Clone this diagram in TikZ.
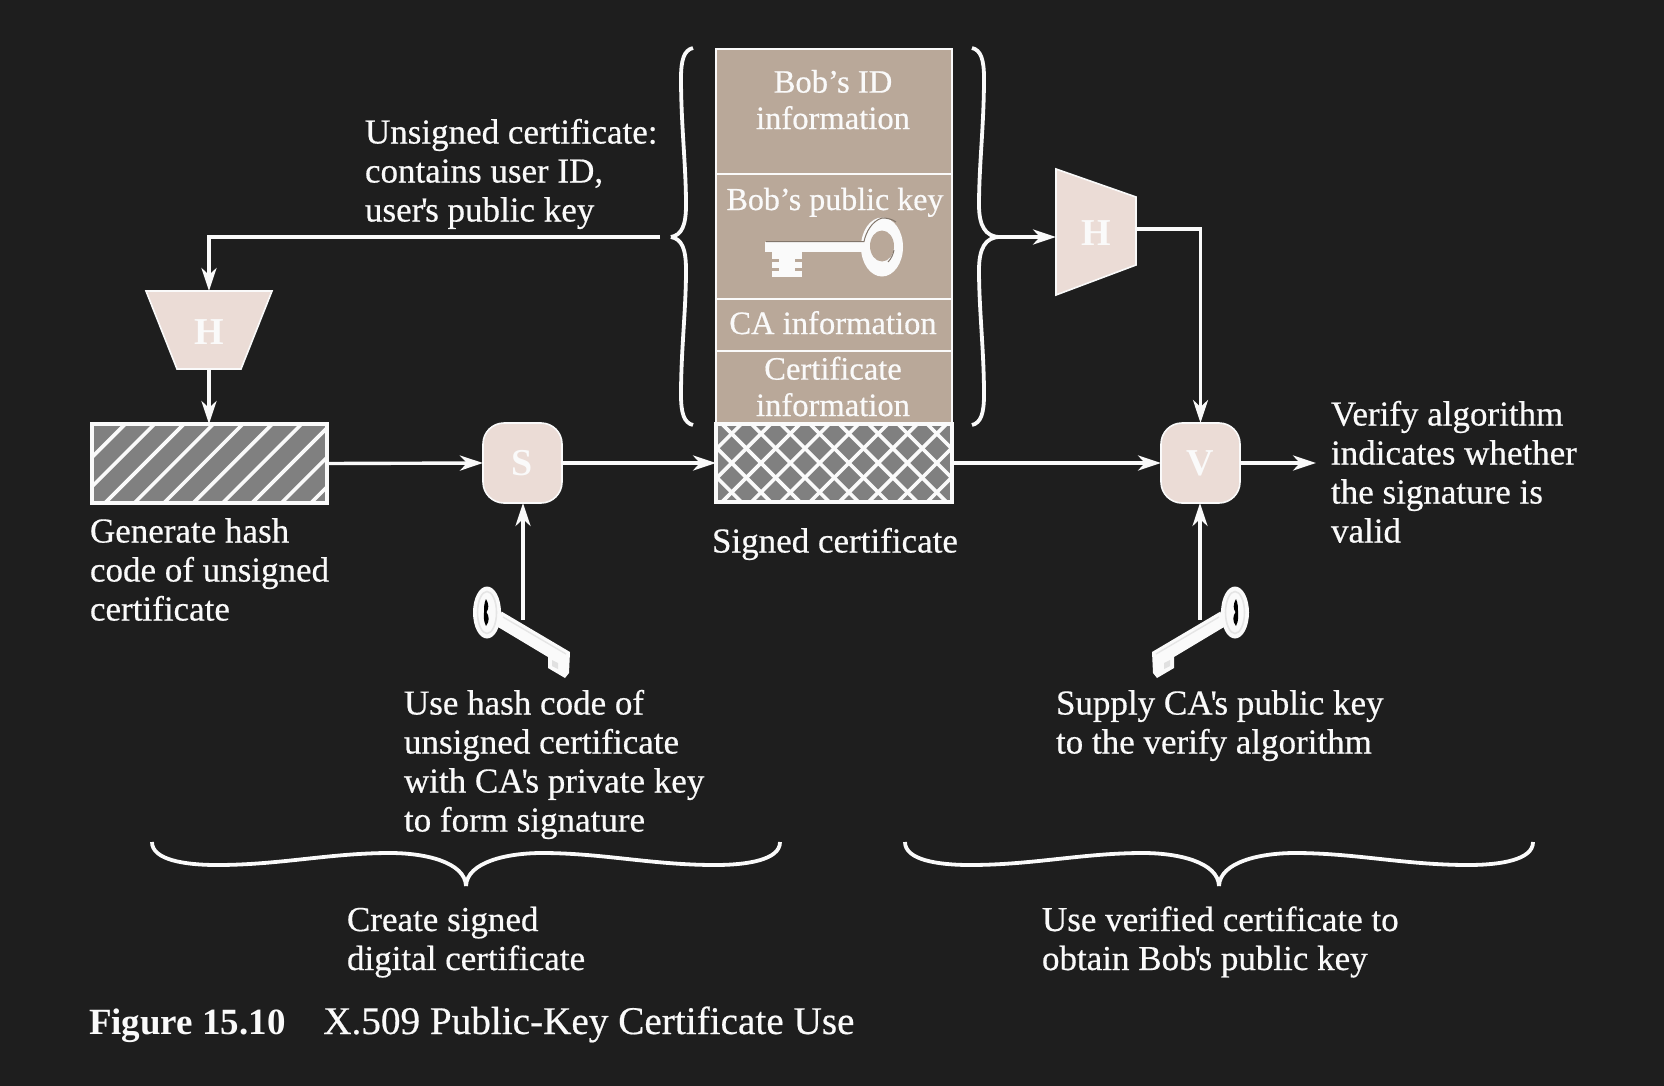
\documentclass[tikz,border=0pt]{standalone}
\usepackage{fontspec}
\setmainfont{Liberation Serif}[Ligatures=TeXOff]
\newfontfamily\labfont{Liberation Serif}[Ligatures=TeXOff,FakeBold=0.5]
\usetikzlibrary{arrows.meta}
\definecolor{bgc}{RGB}{30,30,30}
\definecolor{tan}{RGB}{185,168,153}
\definecolor{pinkc}{RGB}{235,220,214}
\definecolor{hatchc}{RGB}{128,128,128}
\definecolor{ink}{RGB}{250,250,250}
\newcommand{\apos}{\kern-1pt'\kern-1.2pt}
\tikzset{
  tipa/.tip={Stealth[length=11.5pt,width=7.5pt,inset=3.5pt]},
  wire/.style={draw=ink,line width=1.7pt,-tipa},
  curly/.style={draw=ink,line width=1.9pt,line cap=butt},
  txt/.style={text=ink,font=\labfont\fontsize{17.5pt}{19.5pt}\selectfont,inner sep=0pt,outer sep=0pt,align=left,anchor=base west},
  celltxt/.style={text=ink,font=\labfont\fontsize{16.3pt}{18.2pt}\selectfont,inner sep=0pt,outer sep=0pt,align=center,anchor=base},
  letter/.style={text=ink,font=\bfseries\fontsize{19pt}{20pt}\selectfont,inner sep=0pt,outer sep=0pt},
  cell/.style={fill=tan,draw=ink,line width=1pt,inner sep=0pt,outer sep=0pt,minimum width=118pt},
  opbox/.style={fill=pinkc,draw=ink,line width=.8pt,rounded corners=10.5pt,minimum width=39.5pt,minimum height=40pt,inner sep=0pt,outer sep=0pt,text=ink,font=\bfseries\fontsize{19pt}{20pt}\selectfont},
  hatchbox/.style={fill=hatchc,inner sep=0pt,outer sep=0pt},
  hatchline/.style={draw=ink,line width=1.8pt},
  frame/.style={draw=ink,line width=1.6pt,inner sep=0pt,outer sep=0pt},
  keypart/.style={fill=ink,draw=none},
}
\newcommand{\lowerkey}{%
  \fill[ink] (487,612.5) ellipse [x radius=14,y radius=26];
  \fill[keypart] (501.5,611.5) -- (570,652) -- (569,673) -- (565,678) -- (548,668) -- (548,657) -- (498,627) -- cycle;
  \draw[black!10!white,line width=.7pt] (503,617) -- (566,654);
  \fill[black!12!white] (552,660) -- (558,663) -- (558,669) -- (552,666) -- cycle;
  \draw[black!10!white,line width=.8pt] (487,612.5) ellipse [x radius=9.5,y radius=21];
  \fill[black] (486,599) .. controls (489,604) and (489,609) .. (486.5,612) .. controls (489,616) and (490,621) .. (486,626) .. controls (483,620) and (484,616) .. (484,612.5) .. controls (484,608) and (484,603) .. (486,599) -- cycle;
}
\begin{document}
\begin{tikzpicture}[x=0.5pt,y=-0.5pt]
\useasboundingbox (0,0) rectangle (1664,1086);
\fill[bgc] (0,0) rectangle (1664,1086);

% certificate stack
\node[cell,minimum height=62.5pt,anchor=north west] (idcell) at (716,49) {};
\node[cell,minimum height=62.5pt,anchor=north west] (keycell) at (716,174) {};
\node[cell,minimum height=26pt,anchor=north west] (cacell) at (716,299) {};
\node[cell,minimum height=36.5pt,anchor=north west] (certcell) at (716,351) {};

\node[celltxt] (idtxt) at (833,129) {Bob’s ID\\information};
\node[celltxt,font=\labfont\fontsize{16pt}{18.2pt}\selectfont] (keytxt) at (835,210) {Bob’s public key};
\node[celltxt] (catxt) at (833,334) {CA information};
\node[celltxt] (certtxt) at (833,416) {Certificate\\information};

% key in the stack
\fill[keypart] (765,242) rectangle (868,252);
\fill[keypart] (772,252) rectangle (802,277);
\fill[tan] (772,259) rectangle (779,262);
\fill[tan] (772,268) rectangle (779,271);
\fill[tan] (795,259) rectangle (802,262);
\fill[tan] (795,268) rectangle (802,271);
\fill[ink] (882,247) ellipse [x radius=21,y radius=29.5];
\fill[tan] (882,246) ellipse [x radius=12,y radius=15.5];
\draw[black!30!tan,line width=.5pt] (766,241.5) -- (864,241.5) .. controls (866,232) and (872,221) .. (882,218) .. controls (887,218) and (892,219) .. (896,222);
\draw[black!30!tan,line width=.5pt] (888,262) .. controls (891,259) and (893,255) .. (894,250);

% signature box (cross hatch)
\node[hatchbox,minimum width=118pt,minimum height=39pt,anchor=north west] (sig) at (716,424) {};
\begin{scope}
\clip (716,424) rectangle (952,502);
\foreach \k in {-3,...,10} {
  \draw[hatchline] ({692.7+\k*29.3},502) -- ++(78,-78);
  \draw[hatchline] ({692.7+\k*29.3},424) -- ++(78,78);
}
\end{scope}
\node[frame,minimum width=118pt,minimum height=39pt,anchor=north west] (sigframe) at (716,424) {};

% hash box
\node[hatchbox,minimum width=117.5pt,minimum height=39.5pt,anchor=north west] (hash) at (92,424) {};
\begin{scope}
\clip (92,424) rectangle (327,503);
\foreach \k in {-2,...,8} {
  \draw[hatchline] ({105+\k*29.4},503) -- ++(79,-79);
}
\end{scope}
\node[frame,minimum width=117.5pt,minimum height=39.5pt,anchor=north west] (hashframe) at (92,424) {};

% hash functions
\fill[pinkc,draw=ink,line width=.8pt] (146,291) -- (272,291) -- (241,369) -- (177,369) -- cycle;
\node[letter,minimum width=63pt,minimum height=39pt] (hl) at (209,330) {};
\node[letter] (hltxt) at (209,332) {H};
\fill[pinkc,draw=ink,line width=.8pt] (1056,169) -- (1136,197) -- (1136,265) -- (1056,295) -- cycle;
\node[letter,minimum width=40pt,minimum height=63pt] (hr) at (1096,233) {H};

% operations
\node[opbox] (s) at (522.5,463) {S};
\node[opbox] (v) at (1200.5,463) {V};

% braces
\coordinate (lb) at (671,237);
\coordinate (rb) at (1000,237);
\draw[curly] (693,48) .. controls (684,50) and (681,60) .. (681,78) .. controls (681,125) and (686,165) .. (686,205) .. controls (686,225) and (682,235) .. (lb);
\draw[curly] (lb) .. controls (682,239) and (686,249) .. (686,270) .. controls (686,310) and (681,350) .. (681,395) .. controls (681,413) and (684,423) .. (693,425);
\draw[curly] (972,48) .. controls (981,50) and (984,60) .. (984,78) .. controls (984,125) and (979,165) .. (979,205) .. controls (979,225) and (985,237) .. (rb);
\draw[curly] (rb) .. controls (985,237) and (979,249) .. (979,270) .. controls (979,310) and (984,350) .. (984,395) .. controls (984,413) and (981,423) .. (972,425);

\coordinate (bam) at (466,886);
\draw[curly] (152,842) .. controls (152,860) and (185,865) .. (217,865) .. controls (280,865) and (330,853) .. (390,853) .. controls (425,853) and (465,862) .. (bam);
\draw[curly] (780,842) .. controls (780,860) and (747,865) .. (715,865) .. controls (652,865) and (602,853) .. (542,853) .. controls (507,853) and (467,862) .. (bam);
\coordinate (bbm) at (1219,886);
\draw[curly] (905,842) .. controls (905,860) and (938,865) .. (970,865) .. controls (1033,865) and (1083,853) .. (1143,853) .. controls (1178,853) and (1218,862) .. (bbm);
\draw[curly] (1533,842) .. controls (1533,860) and (1500,865) .. (1468,865) .. controls (1405,865) and (1355,853) .. (1295,853) .. controls (1260,853) and (1220,862) .. (bbm);

% lower keys
\lowerkey
\begin{scope}[xshift=861pt,xscale=-1]
\lowerkey
\end{scope}

% connectors
\coordinate (lbend) at (660,237);
\draw[wire] (lbend) -| (hl.north);
\draw[wire] (hl.south) -- (hash.north -| hl.south);
\draw[wire] (hash.east) -- (s.west);
\draw[wire] (s.east) -- (sig.west);
\draw[wire] (sig.east) -- (v.west);
\coordinate (vout) at (1316,463);
\draw[wire] (v.east) -- (vout);
\coordinate (skey) at (523,620);
\draw[wire] (skey) -- (s.south -| skey);
\coordinate (vkey) at (1200,620);
\draw[wire] (vkey) -- (v.south -| vkey);
\draw[wire] (rb) -- (rb -| hr.west);
\coordinate (hrout) at (1136,229);
\draw[wire] (hrout) -| (v.north);

% labels
\node[txt] (t1) at (365,221.5) {Unsigned certificate:\\contains user ID,\\user\apos s public key};
\node[txt] (t2) at (90,620.5) {Generate hash\\code of unsigned\\certificate};
\node[txt] (t3) at (712,552.5) {Signed certificate};
\node[txt] (t4) at (404,831.5) {Use hash code of\\unsigned certificate\\with CA\apos s private key\\to form signature};
\node[txt] (t5) at (1056,753.5) {Supply CA\apos s public key\\to the verify algorithm};
\node[txt] (t6) at (1331,542.5) {Verify algorithm\\indicates whether\\the signature is\\valid};
\node[txt] (t7) at (347,970) {Create signed\\digital certificate};
\node[txt] (t8) at (1042,970) {Use verified certificate to\\obtain Bob\apos s public key};
\node[txt,font=\labfont\fontsize{19.6pt}{22pt}\selectfont] (cap) at (89,1034) {{\normalfont\bfseries\fontsize{18.5pt}{22pt}\selectfont Figure 15.10}\hspace{18.8pt}X.509 Public-Key Certificate Use};
\end{tikzpicture}
\end{document}
